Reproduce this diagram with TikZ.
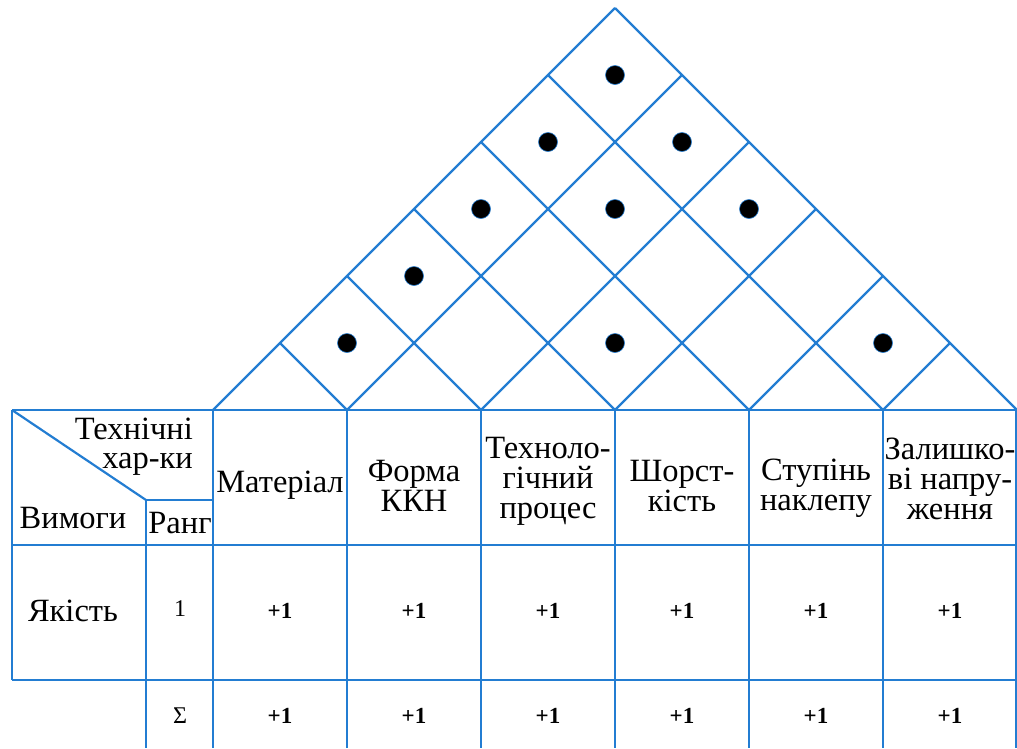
\documentclass[tikz,border=0pt]{standalone}
\usepackage{fontspec}
\setmainfont{Liberation Serif}
\definecolor{qblue}{RGB}{35,125,210}
\begin{document}
\begin{tikzpicture}[x=1pt,y=-1pt,
  grid/.style={draw=qblue,line width=2.2pt},
  hdr/.style={font=\fontsize{32.5}{30}\selectfont,align=center,inner sep=0pt},
  val/.style={font=\fontsize{23}{24}\selectfont\bfseries,inner sep=0pt},
  dotmark/.style={circle,fill=black,draw=qblue,line width=0.6pt,minimum size=19pt,inner sep=0pt}]
\useasboundingbox (0,0) rectangle (1017,748);
% table lines
\draw[grid] (12,410) -- (1017,410);
\draw[grid] (12,545) -- (1017,545);
\draw[grid] (12,680) -- (1017,680);
\draw[grid] (12,410) -- (12,680);
\draw[grid] (146,500) -- (213,500);
\draw[grid] (146,500) -- (146,748);
\draw[grid] (12,410) -- (146,500);
\foreach \k in {0,...,5}{
  \draw[grid] ({213+134*\k},410) -- ({213+134*\k},748);
}
\draw[grid] (1016,410) -- (1016,748);
% roof
\foreach \k in {0,...,6}{
  \pgfmathsetmacro{\xk}{213+134*\k}
  \pgfmathsetmacro{\tr}{(1017-\xk)/2}
  \pgfmathsetmacro{\tl}{(\xk-213)/2}
  \draw[grid] (\xk,410) -- ({\xk+\tr},{410-\tr});
  \draw[grid] (\xk,410) -- ({\xk-\tl},{410-\tl});
}
% dots
\foreach \i/\j [count=\n] in {0/5,0/4,1/5,0/3,1/4,2/5,0/2,0/1,2/3,4/5}{
  \node[dotmark] (d\n) at ({213+67*(\i+\j+1)},{410-67*(\j-\i)}) {};
}
% header texts
\node[hdr,font=\fontsize{32.5}{29}\selectfont,align=right,anchor=east] (th) at (193,447) {Технічні\\хар-ки};
\node[hdr] (vym) at (73,518) {Вимоги};
\node[hdr] (rang) at (180,523) {Ранг};
\node[hdr] (h1) at (280,485) {Матеріал};
\node[hdr] (h2) at (414,486) {Форма\\ККН};
\node[hdr] (h3) at (548,481) {Техноло-\\гічний\\процес};
\node[hdr] (h4) at (682,486) {Шорст-\\кість};
\node[hdr] (h5) at (816,488) {Ступінь\\наклепу};
\node[hdr] (h6) at (950,479) {Залишко-\\ві напру-\\ження};
% body
\node[hdr] (yak) at (73,611) {Якість};
\node[font=\fontsize{24}{26}\selectfont,inner sep=0pt] (r1) at (180,609) {1};
\node[font=\fontsize{24}{26}\selectfont,inner sep=0pt] (sig) at (180,716) {Σ};
\foreach \k in {0,...,5}{
  \node[val] (a\k) at ({280+134*\k},611) {+1};
  \node[val] (b\k) at ({280+134*\k},716) {+1};
}
\end{tikzpicture}
\end{document}
